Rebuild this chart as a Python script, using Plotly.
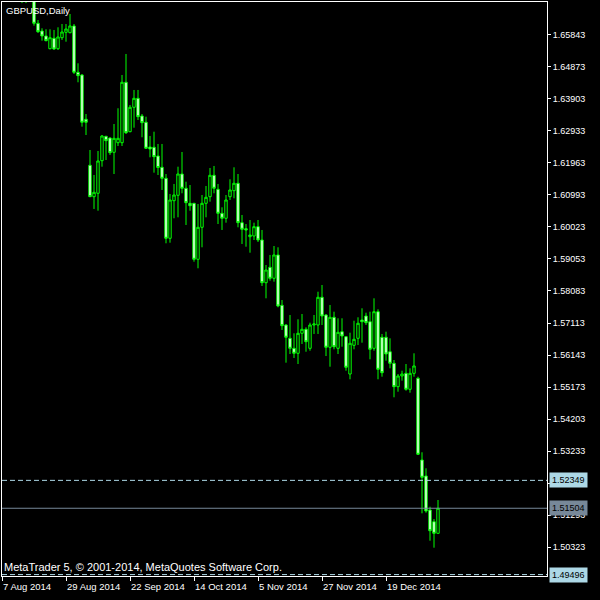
import pandas as pd
import plotly.graph_objects as go

# daily GBPUSD bars, 7 Aug 2014 onwards (weekdays)
dates = [d.strftime("%Y-%m-%d") for d in pd.bdate_range("2014-08-07", periods=110)]

opens = [
    1.6830, 1.6815, 1.6790, 1.6820, 1.6770, 1.6735, 1.6705, 1.6720, 1.6738, 1.66188,
    1.65955, 1.65804, 1.65419, 1.65734, 1.65419, 1.65752, 1.65916, 1.65904, 1.66107, 1.64705,
    1.64623, 1.63282, 1.61889, 1.60938, 1.61041, 1.62028, 1.62767, 1.62715, 1.62282, 1.62573,
    1.62573, 1.64402, 1.62906, 1.63645, 1.63917, 1.63382, 1.63191, 1.62443, 1.62434, 1.62170,
    1.61828, 1.61495, 1.59678, 1.60817, 1.60980, 1.61625, 1.61192, 1.60738, 1.60738, 1.59042,
    1.60011, 1.60738, 1.60938, 1.61586, 1.61162, 1.60435, 1.60284, 1.60938, 1.61120, 1.61344,
    1.60151, 1.59969, 1.59727, 1.59748, 1.60030, 1.59627, 1.58334, 1.58800, 1.58467, 1.59173,
    1.57649, 1.57053, 1.56650, 1.56347, 1.56196, 1.56802, 1.56923, 1.56347, 1.57053, 1.57053,
    1.57892, 1.57356, 1.56378, 1.57286, 1.56347, 1.56850, 1.56699, 1.55569, 1.56438, 1.56650,
    1.57204, 1.57325, 1.57153, 1.56347, 1.57456, 1.56681, 1.56681, 1.56244, 1.55893, 1.55185,
    1.55509, 1.55590, 1.55106, 1.55590, 1.55439, 1.52965, 1.52481, 1.51451, 1.51097, 1.50745,
]
highs = [
    1.6860, 1.6832, 1.6835, 1.6842, 1.6800, 1.6745, 1.6730, 1.6745, 1.6745, 1.66288,
    1.66037, 1.66007, 1.66007, 1.65986, 1.66067, 1.66167, 1.66167, 1.66470, 1.66167, 1.64977,
    1.64653, 1.63442, 1.62352, 1.61595, 1.62322, 1.62806, 1.62776, 1.62737, 1.63139, 1.63615,
    1.64623, 1.65259, 1.63715, 1.64169, 1.64169, 1.63442, 1.63360, 1.62776, 1.62906, 1.62534,
    1.62534, 1.61625, 1.61020, 1.61323, 1.61846, 1.62291, 1.61392, 1.61292, 1.60750, 1.60717,
    1.60989, 1.61262, 1.61807, 1.61868, 1.61323, 1.60617, 1.60989, 1.61465, 1.61828, 1.61625,
    1.60384, 1.60111, 1.60232, 1.60151, 1.60232, 1.59930, 1.58870, 1.59173, 1.59445, 1.59406,
    1.57810, 1.57083, 1.57356, 1.56802, 1.57226, 1.57386, 1.56983, 1.57123, 1.57356, 1.58061,
    1.58264, 1.57386, 1.57659, 1.57456, 1.57256, 1.57256, 1.56720, 1.56820, 1.57183, 1.57286,
    1.57559, 1.57425, 1.57456, 1.57861, 1.57528, 1.56781, 1.56850, 1.56650, 1.55993, 1.55569,
    1.55669, 1.55872, 1.55742, 1.56196, 1.55488, 1.53199, 1.52714, 1.51551, 1.51178, 1.51754,
]
lows = [
    1.6795, 1.6770, 1.6775, 1.6760, 1.6720, 1.6680, 1.6680, 1.6695, 1.66116, 1.65895,
    1.65662, 1.65643, 1.65401, 1.65380, 1.65380, 1.65683, 1.65631, 1.65886, 1.64653, 1.64402,
    1.63058, 1.62806, 1.60930, 1.60566, 1.60514, 1.61846, 1.62049, 1.62201, 1.61625, 1.62473,
    1.62473, 1.62836, 1.62890, 1.63027, 1.63260, 1.62737, 1.62382, 1.62131, 1.61665, 1.61595,
    1.61141, 1.59527, 1.59545, 1.60284, 1.60314, 1.61041, 1.60081, 1.60514, 1.58970, 1.58770,
    1.59406, 1.60314, 1.60787, 1.61041, 1.60111, 1.59930, 1.60151, 1.60838, 1.60889, 1.60011,
    1.59506, 1.59424, 1.59242, 1.59627, 1.59566, 1.58234, 1.57861, 1.58394, 1.58364, 1.57589,
    1.56902, 1.55912, 1.56175, 1.56054, 1.55872, 1.56478, 1.56244, 1.56275, 1.56781, 1.56781,
    1.57053, 1.56114, 1.55790, 1.56317, 1.56175, 1.56396, 1.55669, 1.55409, 1.56317, 1.56448,
    1.56517, 1.57053, 1.56014, 1.56275, 1.55409, 1.55488, 1.55972, 1.55742, 1.54864, 1.55033,
    1.55367, 1.55064, 1.55003, 1.55488, 1.53117, 1.51351, 1.51369, 1.50521, 1.50310, 1.50740,
]
closes = [
    1.6815, 1.6790, 1.6820, 1.6770, 1.6735, 1.6705, 1.6720, 1.6738, 1.66188, 1.65934,
    1.65804, 1.65662, 1.65752, 1.65410, 1.65774, 1.65925, 1.66016, 1.66107, 1.64705, 1.64602,
    1.63191, 1.63191, 1.60938, 1.61071, 1.62019, 1.62776, 1.62634, 1.62270, 1.62706, 1.62706,
    1.64402, 1.62876, 1.63645, 1.63917, 1.63360, 1.63179, 1.62403, 1.62382, 1.62149, 1.61822,
    1.61495, 1.59678, 1.60838, 1.60989, 1.61625, 1.61192, 1.60756, 1.60665, 1.59042, 1.60011,
    1.60738, 1.60920, 1.61586, 1.61192, 1.60435, 1.60284, 1.60838, 1.61141, 1.61344, 1.60151,
    1.59951, 1.59930, 1.59778, 1.60030, 1.59627, 1.58334, 1.58718, 1.58467, 1.59173, 1.57628,
    1.57032, 1.56681, 1.56347, 1.56196, 1.56802, 1.56923, 1.56547, 1.57053, 1.57083, 1.57892,
    1.57325, 1.56378, 1.57286, 1.56396, 1.56832, 1.56720, 1.55772, 1.56499, 1.56620, 1.57105,
    1.57153, 1.57123, 1.56317, 1.57456, 1.55711, 1.55608, 1.56175, 1.55893, 1.55185, 1.55509,
    1.55569, 1.55106, 1.55590, 1.55812, 1.53138, 1.52441, 1.51421, 1.50824, 1.50745, 1.51504,
]

price_ticks = [
    1.65843, 1.64873, 1.63903, 1.62933, 1.61963, 1.60993, 1.60023, 1.59053, 1.58083,
    1.57113, 1.56143, 1.55173, 1.54203, 1.53233, 1.52263, 1.51293, 1.50323,
]
y_range = [1.49453, 1.66833]

date_ticks = ["2014-08-07", "2014-08-29", "2014-09-22", "2014-10-14", "2014-11-05", "2014-11-27", "2014-12-19"]
date_labels = ["7 Aug 2014", "29 Aug 2014", "22 Sep 2014", "14 Oct 2014", "5 Nov 2014", "27 Nov 2014", "19 Dec 2014"]

dashed_levels = [1.52349, 1.49496]
bid_level = 1.51504

GREEN = "#00FF00"
LEVEL_BLUE = "#ADD8E6"
BID_GRAY = "#778899"
FONT = "Liberation Sans"

fig = go.Figure(
    go.Candlestick(
        x=dates,
        open=opens,
        high=highs,
        low=lows,
        close=closes,
        increasing=dict(line=dict(color=GREEN, width=1), fillcolor="black"),
        decreasing=dict(line=dict(color=GREEN, width=1), fillcolor="white"),
        whiskerwidth=0,
        hoverinfo="skip",
    )
)

for lvl in dashed_levels:
    fig.add_shape(
        type="line", xref="paper", x0=0, x1=1, yref="y", y0=lvl, y1=lvl,
        line=dict(color=LEVEL_BLUE, width=1, dash="5px,3px"),
    )
    fig.add_annotation(
        x=1, xref="paper", y=lvl, yref="y", xanchor="left", xshift=2,
        text=f"{lvl:.5f}", showarrow=False, bgcolor=LEVEL_BLUE, borderpad=2,
        font=dict(family=FONT, size=9, color="black"),
    )

fig.add_shape(
    type="line", xref="paper", x0=0, x1=1, yref="y", y0=bid_level, y1=bid_level,
    line=dict(color=BID_GRAY, width=1),
)
fig.add_annotation(
    x=1, xref="paper", y=bid_level, yref="y", xanchor="left", xshift=2,
    text=f"{bid_level:.5f}", showarrow=False, bgcolor=BID_GRAY, borderpad=2,
    font=dict(family=FONT, size=9, color="black"),
)

for d, lab in zip(date_ticks, date_labels):
    fig.add_annotation(
        x=d, xref="x", y=0, yref="paper", xanchor="left", yanchor="top",
        xshift=-1, yshift=-3, text=lab, showarrow=False,
        font=dict(family=FONT, size=9.5, color="white"),
    )

fig.add_annotation(
    x=0, xref="paper", y=1, yref="paper", xanchor="left", yanchor="top",
    xshift=2, yshift=-1, text="GBPUSD,Daily", showarrow=False,
    font=dict(family=FONT, size=9.5, color="white"),
)
fig.add_annotation(
    x=0, xref="paper", y=0, yref="paper", xanchor="left", yanchor="bottom",
    xshift=0, yshift=1, text="MetaTrader 5, © 2001-2014, MetaQuotes Software Corp.",
    showarrow=False, font=dict(family=FONT, size=11, color="white"),
)

fig.update_xaxes(
    type="category",
    range=[0, 136.25],
    rangeslider_visible=False,
    showgrid=False,
    showline=True, mirror=True, linecolor="white", linewidth=1,
    ticks="outside", ticklen=4, tickcolor="white",
    tickvals=date_ticks, showticklabels=False,
)
fig.update_yaxes(
    side="right",
    range=y_range,
    showgrid=False, zeroline=False,
    showline=True, mirror=True, linecolor="white", linewidth=1,
    ticks="outside", ticklen=3, tickcolor="white",
    tickvals=price_ticks, tickformat=".5f",
    tickfont=dict(family=FONT, size=9, color="white"),
)
fig.update_layout(
    width=600, height=600,
    paper_bgcolor="black", plot_bgcolor="black",
    margin=dict(l=2, r=53, t=2, b=24),
    showlegend=False,
    boxgap=0.4, boxgroupgap=0,
)
# drop the page's default body margin so the figure sits at the window corner
fig.write_html(
    "out.html",
    config={"displayModeBar": False},
    post_script="document.body.style.margin='0';document.body.style.background='black';",
)
